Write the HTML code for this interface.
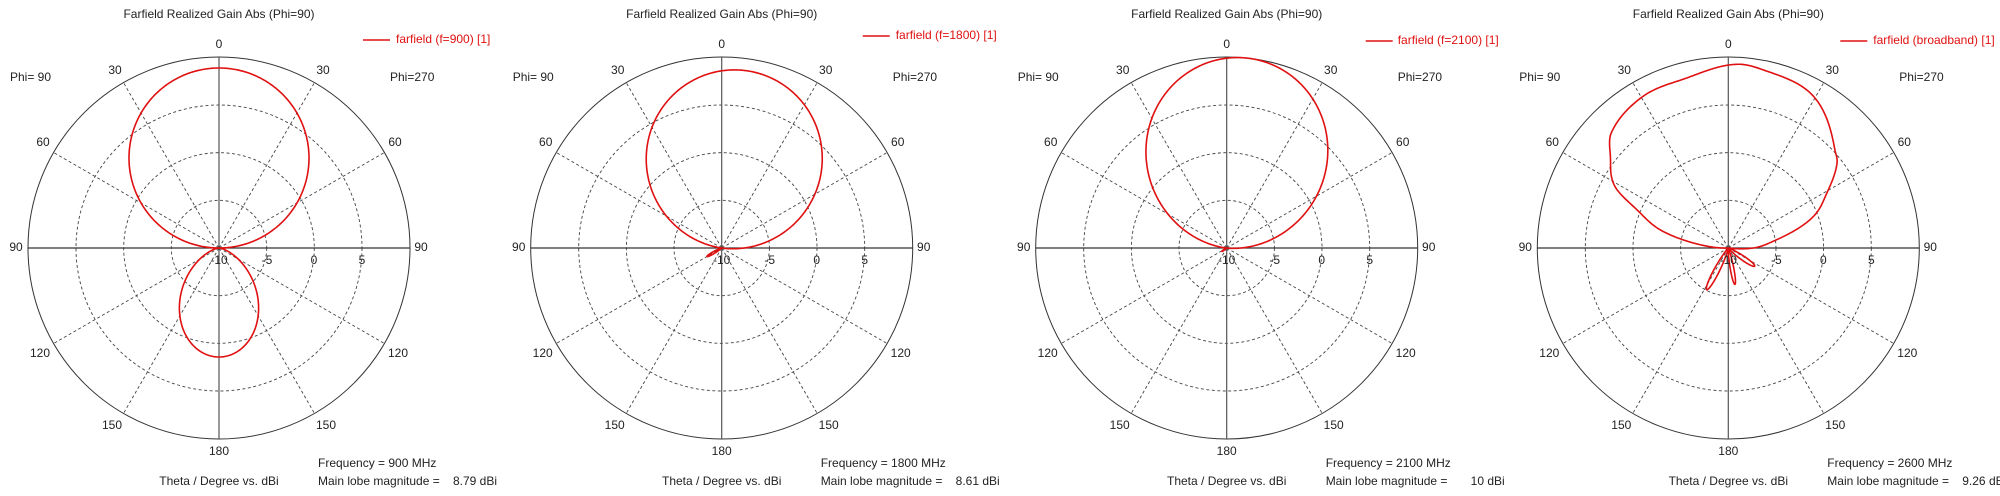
<!DOCTYPE html>
<html><head><meta charset="utf-8"><style>
html,body{margin:0;padding:0;background:#fff;}
svg{display:block;}
text{font-family:"Liberation Sans",sans-serif;font-size:12px;fill:#222;dominant-baseline:middle;}
</style></head><body>
<svg id="s" xmlns="http://www.w3.org/2000/svg" width="2000" height="496" viewBox="0 0 2000 496"></svg>
<script>
var S=document.getElementById('s'),h='';
var R=191,cy=248;
function P(cx,a,r){var t=a*Math.PI/180;return [cx+r*Math.sin(t),cy-r*Math.cos(t)];}
function T(x,y,s,anc,col){h+='<text x="'+x.toFixed(1)+'" y="'+y+'" text-anchor="'+(anc||'middle')+'"'+(col?' style="fill:'+col+'"':'')+'>'+s+'</text>';}
function lobeCos(A,t,n){return function(a){var c=Math.cos((a-t)*Math.PI/180);return c>0?A*Math.pow(c,n):0;};}
function gauss(A,t,w){return function(a){var d=a-t;while(d>180)d-=360;while(d<-180)d+=360;return A*Math.exp(-(d/w)*(d/w));};}
function table(pts){return function(a){if(a>180)a-=360;var n=pts.length;if(a<pts[0][0]||a>pts[n-1][0])return 0;for(var i=0;i<n-1;i++){if(a>=pts[i][0]&&a<=pts[i+1][0]){
  var p0=pts[Math.max(i-1,0)],p1=pts[i],p2=pts[i+1],p3=pts[Math.min(i+2,n-1)];
  var t=(a-p1[0])/(p2[0]-p1[0]);
  var m1=(p2[1]-p0[1])/(p2[0]-p0[0]||1)*(p2[0]-p1[0]),m2=(p3[1]-p1[1])/(p3[0]-p1[0]||1)*(p2[0]-p1[0]);
  var t2=t*t,t3=t2*t;
  var v=(2*t3-3*t2+1)*p1[1]+(t3-2*t2+t)*m1+(-2*t3+3*t2)*p2[1]+(t3-t2)*m2;
  return Math.max(0,v);}}return 0;};}
var panels=[
 {cx:219,freq:'900',val:'8.79 dBi',leg:'farfield (f=900) [1]',lx:144,tx:177,ly:40,
  f:[lobeCos(180,0,1),lobeCos(109,180,2.3)]},
 {cx:721.7,freq:'1800',val:'8.61 dBi',leg:'farfield (f=1800) [1]',lx:141,tx:174,ly:36,
  f:[lobeCos(179,8,1.05),gauss(17,240,8)]},
 {cx:1226.7,freq:'2100',val:'10 dBi',leg:'farfield (f=2100) [1]',lx:139,tx:171,ly:41,
  f:[lobeCos(191,6,1.15),gauss(6,235,8)]},
 {cx:1728.3,freq:'2600',val:'9.26 dBi',leg:'farfield (broadband) [1]',lx:112,tx:145,ly:41,
  f:[table([[-92,0],[-83.3,28.5],[-75,70.7],[-67.3,99],[-61.5,129],[-52.3,149],[-45.6,164],[-29.3,174],[-13.8,175],[3,184],[12.3,181],[29.3,174],[47.3,145],[52,138],[60.8,113],[69.6,91],[80.3,49],[90,25],[97,0]]),
     gauss(47,207.4,8),gauss(37,169.7,6.5),gauss(32,124.6,9)]}
];
panels.forEach(function(p){
 var cx=p.cx;
 [47.7,95.3,143].forEach(function(r){h+='<circle cx="'+cx+'" cy="'+cy+'" r="'+r+'" fill="none" stroke="#444" stroke-width="0.9" stroke-dasharray="3,2.5"/>';});
 h+='<circle cx="'+cx+'" cy="'+cy+'" r="'+R+'" fill="none" stroke="#333" stroke-width="1"/>';
 [30,60,120,150,210,240,300,330].forEach(function(a){var q=P(cx,a,R);h+='<line x1="'+cx+'" y1="'+cy+'" x2="'+q[0].toFixed(1)+'" y2="'+q[1].toFixed(1)+'" stroke="#444" stroke-width="0.9" stroke-dasharray="3,2.5"/>';});
 h+='<line x1="'+(cx-R)+'" y1="'+cy+'" x2="'+(cx+R)+'" y2="'+cy+'" stroke="#333" stroke-width="1.2"/>';
 h+='<line x1="'+cx+'" y1="'+(cy-R)+'" x2="'+cx+'" y2="'+(cy+R)+'" stroke="#555" stroke-width="1.2"/>';
 var d='';for(var a=0;a<=360;a+=0.5){var r=0;p.f.forEach(function(fn){r=Math.max(r,fn(a));});var q=P(cx,a,r);d+=(a?'L':'M')+q[0].toFixed(2)+' '+q[1].toFixed(2);}
 h+='<path d="'+d+'Z" fill="none" stroke="#e01010" stroke-width="1.6" stroke-linejoin="round"/>';
 T(cx,15,'Farfield Realized Gain Abs (Phi=90)');
 T(cx,45,'0');T(cx-104,71,'30');T(cx+104,71,'30');T(cx-176,143,'60');T(cx+176,143,'60');
 T(cx-203,248,'90');T(cx+202,248,'90');T(cx-179,354,'120');T(cx+179,354,'120');
 T(cx-107,426,'150');T(cx+107,426,'150');T(cx,452,'180');
 T(cx,261,'-10');T(cx+48,261,'-5');T(cx+95,261,'0');T(cx+143,261,'5');
 T(cx-209,78,'Phi= 90','start');T(cx+171,78,'Phi=270','start');
 T(cx+99,464,'Frequency = '+p.freq+' MHz','start');
 T(cx+99,482,'Main lobe magnitude =','start');T(cx+278,482,p.val,'end');
 T(cx,482,'Theta / Degree vs. dBi');
 h+='<line x1="'+(cx+p.lx)+'" y1="'+p.ly+'" x2="'+(cx+p.lx+27)+'" y2="'+p.ly+'" stroke="#e01010" stroke-width="1.6"/>';
 T(cx+p.tx,p.ly,p.leg,'start','#e01010');
});
S.innerHTML=h;
</script>
</body></html>
